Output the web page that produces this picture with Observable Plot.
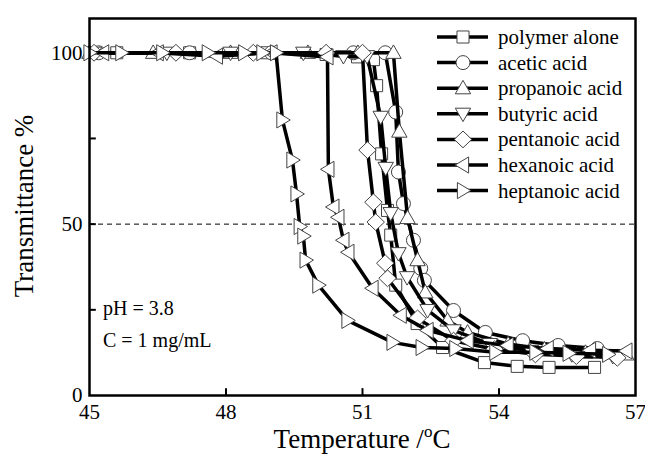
<!DOCTYPE html>
<html>
<head>
<meta charset="utf-8">
<script src="https://cdn.jsdelivr.net/npm/d3@7"></script>
<script src="https://cdn.jsdelivr.net/npm/@observablehq/plot@0.6"></script>
<style>
  html, body { margin: 0; padding: 0; background: #fff; }
  #chart svg { display: block; }
</style>
</head>
<body>
<div id="chart"></div>
<script>
// ---- data (temperature in °C, transmittance in %) ----
const seriesNames = ["polymer alone", "acetic acid", "propanoic acid", "butyric acid", "pentanoic acid", "hexanoic acid", "heptanoic acid"];

const polymerT = [45.6, 47.2, 48.9, 50.2, 50.89, 51.24, 51.31, 51.42, 51.55, 51.62, 51.73, 52.2, 52.76, 53.68, 54.4, 55.1, 56.1];
const polymerV = [100, 100, 100, 99.5, 98.8, 98, 90.4, 70.5, 54, 46.8, 32.2, 21, 14, 9.6, 8.5, 8.2, 8.2];

const aceticT = [45.2, 47.2, 49.0, 50.8, 51.5, 51.73, 51.79, 51.9, 52.12, 52.28, 52.36, 53.0, 53.7, 54.52, 55.3, 56.16];
const aceticV = [100, 100, 100, 100, 100, 82.7, 65.2, 56, 45.3, 37.1, 33.6, 24.8, 18.4, 16, 14.6, 13.7];

const propanoicT = [45.0, 46.4, 48.1, 49.8, 50.9, 51.68, 51.81, 51.99, 52.21, 52.38, 52.87, 53.31, 54.2, 55.0, 55.9, 56.8];
const propanoicV = [100, 100, 100, 100, 100, 100, 77, 51.8, 39.5, 30.1, 21.9, 18.4, 15, 13.5, 12.5, 12];

const butyricT = [45.1, 46.7, 48.1, 49.7, 50.58, 51.1, 51.4, 51.51, 51.62, 51.79, 51.98, 52.43, 53.0, 53.8, 54.7, 55.6, 56.5];
const butyricV = [100, 100, 100, 100, 99, 99, 81.3, 66.4, 53.2, 41.5, 34.5, 24.9, 19, 15, 13, 12, 11.5];

const pentanoicT = [45.1, 46.9, 48.6, 50.2, 51.0, 51.11, 51.24, 51.29, 51.5, 51.55, 52.21, 53.0, 53.9, 54.8, 55.7, 56.6];
const pentanoicV = [100, 100, 100, 100, 100, 71.6, 56.4, 50.6, 38.6, 34.2, 22.5, 16, 13.5, 12, 11.5, 11];

const hexanoicT = [45.3, 46.5, 47.8, 49.0, 50.23, 50.25, 50.36, 50.47, 50.58, 50.69, 51.22, 51.84, 52.43, 53.31, 54.19, 55.07, 56.0, 56.8];
const hexanoicV = [100, 100, 99, 100, 98.8, 66, 55, 52, 45.3, 41.8, 31.3, 23.4, 19, 16, 14.6, 13.7, 13.2, 13];

const heptanoicT = [45.0, 45.7, 46.6, 47.6, 48.4, 48.8, 49.1, 49.24, 49.46, 49.55, 49.62, 49.7, 49.75, 50.03, 50.67, 51.66, 52.3, 53.04, 53.92, 54.8, 55.53, 56.4];
const heptanoicV = [100, 100, 100, 100, 100, 100, 100, 80.4, 68.7, 58.8, 49.3, 46.5, 39.5, 32.2, 21.9, 15.5, 14, 13.7, 12.6, 12.6, 12.3, 12];

const xTicks = [45, 48, 51, 54, 57];
const yTicks = [0, 50, 100];
const xMinorTicks = [48, 51, 54];
const yMinorTicks = [25, 50, 75];
const refLevel = [50];
const notes = ["pH = 3.8", "C = 1 mg/mL"];

// ---- marker shapes ----
function poly(pts) {
  return { draw(ctx, size) {
    const s = Math.sqrt(size / Math.PI);
    ctx.moveTo(pts[0][0] * s, pts[0][1] * s);
    for (let i = 1; i < pts.length; i++) ctx.lineTo(pts[i][0] * s, pts[i][1] * s);
    ctx.closePath();
  }};
}
const circleSym = { draw(ctx, size) { const r = Math.sqrt(size / Math.PI); ctx.moveTo(r, 0); ctx.arc(0, 0, r, 0, 2 * Math.PI); ctx.closePath(); } };
const symbols = [
  poly([[-0.86, -0.86], [0.86, -0.86], [0.86, 0.86], [-0.86, 0.86]]),
  circleSym,
  poly([[0, -1.12], [1.1, 0.8], [-1.1, 0.8]]),
  poly([[0, 1.12], [1.1, -0.8], [-1.1, -0.8]]),
  poly([[0, -1.2], [1.25, 0], [0, 1.2], [-1.25, 0]]),
  poly([[-1.12, 0], [0.8, -1.15], [0.8, 1.15]]),
  poly([[1.12, 0], [-0.8, -1.15], [-0.8, 1.15]])
];

const allT = [polymerT, aceticT, propanoicT, butyricT, pentanoicT, hexanoicT, heptanoicT];
const allV = [polymerV, aceticV, propanoicV, butyricV, pentanoicV, hexanoicV, heptanoicV];
const tables = allT.map((T, k) => T.map((t, i) => ({ t, v: allV[k][i], s: seriesNames[k] })));

const R = 7;
const seriesMarks = [];
tables.forEach((tab, k) => {
  seriesMarks.push(Plot.line(tab, { x: "t", y: "v", stroke: "#000", strokeWidth: 3.5 }));
  seriesMarks.push(Plot.dot(tab, { x: "t", y: "v", symbol: symbols[k], r: R, fill: "#fff", stroke: "#444", strokeWidth: 1 }));
});

const chart = Plot.plot({
  width: 645,
  height: 457,
  marginLeft: 89,
  marginRight: 10,
  marginTop: 18,
  marginBottom: 62,
  style: { fontFamily: "'Liberation Serif', 'Times New Roman', serif", background: "#fff", color: "#000" },
  x: { domain: [45, 57] },
  y: { domain: [0, 110] },
  marks: [
    Plot.ruleY(refLevel, { stroke: "#000", strokeWidth: 1, strokeDasharray: "5,4" }),
    ...seriesMarks,
    Plot.ruleX(xMinorTicks, { y1: 0, y2: 2.0, stroke: "#000", strokeWidth: 2 }),
    Plot.ruleY(yMinorTicks, { x1: 45, x2: 45.15, stroke: "#000", strokeWidth: 2 }),
    Plot.axisX({ ticks: xTicks, tickSize: 0, tickPadding: 9, fontSize: 21, label: null, tickFormat: d => String(d) }),
    Plot.axisY({ ticks: yTicks, tickSize: 0, tickPadding: 7, fontSize: 21, label: null, tickFormat: d => String(d) }),
    Plot.frame({ stroke: "#000", strokeWidth: 2.5 })
  ]
});

document.getElementById("chart").appendChild(chart);

// ---- titles, notes, legend ----
const svg = d3.select(chart);
const font = "'Liberation Serif', 'Times New Roman', serif";

const xl = svg.append("text").attr("x", 362).attr("y", 448).attr("text-anchor", "middle")
  .attr("font-family", font).attr("font-size", 27).attr("fill", "#000");
xl.append("tspan").text("Temperature /");
xl.append("tspan").attr("dy", -11).attr("font-size", 17).text("o");
xl.append("tspan").attr("dy", 11).text("C");

svg.append("text").attr("transform", "translate(33,206) rotate(-90)").attr("text-anchor", "middle")
  .attr("font-family", font).attr("font-size", 27).attr("fill", "#000").text("Transmittance %");

notes.forEach((n, i) => {
  svg.append("text").attr("x", 103).attr("y", 315 + i * 32).attr("text-anchor", "start")
    .attr("font-family", font).attr("font-size", 20).attr("fill", "#000").text(n);
});

function symbolPath(sym, size) {
  const p = d3.path();
  sym.draw(p, size);
  return p.toString();
}

const lg = svg.append("g");
seriesNames.forEach((name, k) => {
  const cy = 37 + k * 25.6;
  lg.append("line").attr("x1", 437).attr("x2", 488).attr("y1", cy).attr("y2", cy)
    .attr("stroke", "#000").attr("stroke-width", 3.5);
  lg.append("path").attr("transform", "translate(463," + cy + ")")
    .attr("d", symbolPath(symbols[k], R * R * Math.PI))
    .attr("fill", "#fff").attr("stroke", "#444").attr("stroke-width", 1);
  lg.append("text").attr("x", 498).attr("y", cy).attr("dy", "0.33em").attr("text-anchor", "start")
    .attr("font-family", font).attr("font-size", 21).attr("fill", "#000").text(name);
});
</script>
</body>
</html>
